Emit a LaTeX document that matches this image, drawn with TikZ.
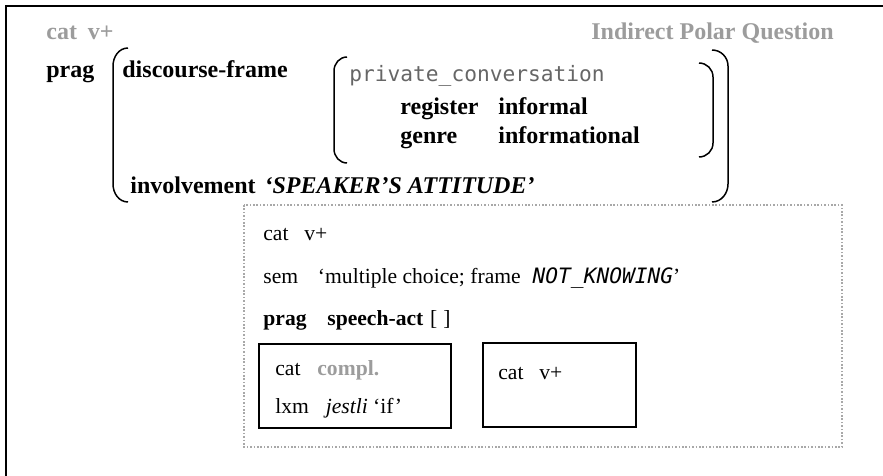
\documentclass[tikz,border=0pt]{standalone}
\usepackage{fontspec}
\setmainfont{Liberation Serif}
\setmonofont{DejaVu Sans Mono}
\usepackage{tikz}
\usetikzlibrary{positioning}

\definecolor{greytext}{HTML}{9C9C9C}
\definecolor{dotgrey}{HTML}{A8A8A8}

\newcommand{\innersize}{\fontsize{10.8pt}{13pt}\selectfont}
\newcommand{\monosize}{\fontsize{10.6pt}{13pt}\selectfont}

\begin{document}
\fontsize{12pt}{14pt}\selectfont
\begin{tikzpicture}[x=0.5pt, y=-0.5pt,
    feat/.style={anchor=base west, inner sep=0pt},
    sub/.style={feat, font=\innersize},
    brk/.style={line width=0.75pt},
    box/.style={draw, line width=0.8pt},
    dotbox/.style={draw=dotgrey, line width=0.8pt, dash pattern=on 0.8pt off 0.9pt}]

    \useasboundingbox (0,0) rectangle (883,476);

    % Frame
    \draw[line width=1pt] (883,6) -- (6,6) -- (6,476);

    % Header
    \node[feat, font=\bfseries, text=greytext] (topcat) at (46,40) {cat};
    \node[feat, font=\bfseries, text=greytext, base right=5pt of topcat] (topval) {v+};
    \node[anchor=base east, inner sep=0pt, font=\bfseries, text=greytext] (title) at (834,40) {Indirect Polar Question};

    % Outer prag value
    \node[feat, font=\bfseries] (prag) at (46,78) {prag};
    \node[feat, font=\bfseries] (dframe) at (122,78) {discourse-frame};
    \node[feat, font=\monosize\ttfamily, text=black!60] (conv) at (349,82) {private\_conversation};
    \node[feat, font=\bfseries] (reg) at (400,115) {register};
    \node[feat, font=\bfseries] (regval) at (498,115) {informal};
    \node[feat, font=\bfseries] (genre) at (400,143) {genre};
    \node[feat, font=\bfseries] (genreval) at (498,143) {informational};
    \node[feat, font=\bfseries] (inv) at (130,193) {involvement};
    \node[feat, font=\bfseries\itshape, base right=4pt of inv] (invval) {‘SPEAKER’S ATTITUDE’};

    % Brackets
    \draw[brk] (128,48) to[out=180, in=90] (113,66) -- (113,184) to[out=-90, in=180] (128,202);
    \draw[brk] (712,50) to[out=0, in=90] (728,66) -- (728,184) to[out=-90, in=0] (712,202);
    \draw[brk] (347,57) to[out=180, in=90] (334,71) -- (334,149) to[out=-90, in=180] (347,163);
    \draw[brk] (699,63) to[out=0, in=90] (713,77) -- (713,143) to[out=-90, in=0] (699,157);

    % Daughter construction
    \draw[dotbox] (244,205) rectangle (842,447);
    \node[sub] (icat) at (263,240) {cat};
    \node[sub, base right=7.5pt of icat] (icatval) {v+};
    \node[sub] (sem) at (263,283) {sem};
    \node[sub, base right=9.5pt of sem] (semval) {‘multiple choice; frame\hspace{6pt}{\monosize\ttfamily\itshape NOT\_KNOWING}’};
    \node[sub, font=\innersize\bfseries] (iprag) at (263,325) {prag};
    \node[sub, font=\innersize\bfseries, base right=10pt of iprag] (sact) {speech-act};
    \node[sub, base right=3pt of sact] (sactval) {[\hspace{3pt}]};

    % Complementizer
    \draw[box] (259,344) rectangle (451,428);
    \node[sub] (compcat) at (275,375) {cat};
    \node[sub, font=\innersize\bfseries, text=greytext, base right=8pt of compcat] (compval) {compl.};
    \node[sub] (lxm) at (275,413) {lxm};
    \node[sub, base right=8pt of lxm] (lxmval) {\textit{jestli} ‘if’};

    % Clause
    \draw[box] (483,343) rectangle (636,427);
    \node[sub] (headcat) at (498,379) {cat};
    \node[sub, base right=7.5pt of headcat] (headval) {v+};

\end{tikzpicture}
\end{document}
